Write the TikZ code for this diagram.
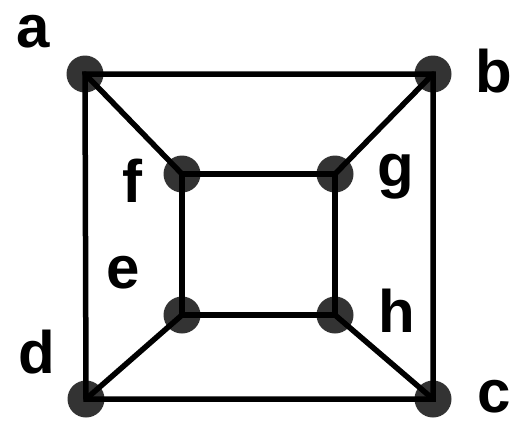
\documentclass[tikz,border=0pt]{standalone}
\usepackage{fontspec}
\setmainfont{Liberation Sans}
\usepackage{tikz}

\begin{document}
\begin{tikzpicture}[x=1pt, y=-1pt,
    vertex/.style={circle, fill=black!80, inner sep=0pt, minimum size=37pt},
    vlabel/.style={anchor=base, inner sep=0pt, font=\fontsize{60}{60}\selectfont\bfseries},
    edge/.style={line width=5.5pt, line cap=round}]
    \useasboundingbox (0,0) rectangle (514,424);

    % outer square
    \node[vertex] (a) at (85,74) {};
    \node[vertex] (b) at (433,74) {};
    \node[vertex] (c) at (433,399) {};
    \node[vertex] (d) at (86,399) {};
    % inner square
    \node[vertex] (f) at (182,174) {};
    \node[vertex] (g) at (335,174) {};
    \node[vertex] (h) at (335,315) {};
    \node[vertex] (e) at (182,315) {};

    \draw[edge] (a.center) -- (b.center) -- (c.center) -- (d.center) -- cycle;
    \draw[edge] (f.center) -- (g.center) -- (h.center) -- (e.center) -- cycle;
    \draw[edge] (a.center) -- (f.center);
    \draw[edge] (b.center) -- (g.center);
    \draw[edge] (c.center) -- (h.center);
    \draw[edge] (d.center) -- (e.center);

    \node[vlabel] (la) at (33,47) {a};
    \node[vlabel] (lb) at (494,92) {b};
    \node[vlabel] (lc) at (494,412) {c};
    \node[vlabel] (ld) at (37,373) {d};
    \node[vlabel] (le) at (123,288) {e};
    \node[vlabel] (lf) at (132,202) {f};
    \node[vlabel] (lg) at (396,186) {g};
    \node[vlabel] (lh) at (397,332) {h};
\end{tikzpicture}
\end{document}
